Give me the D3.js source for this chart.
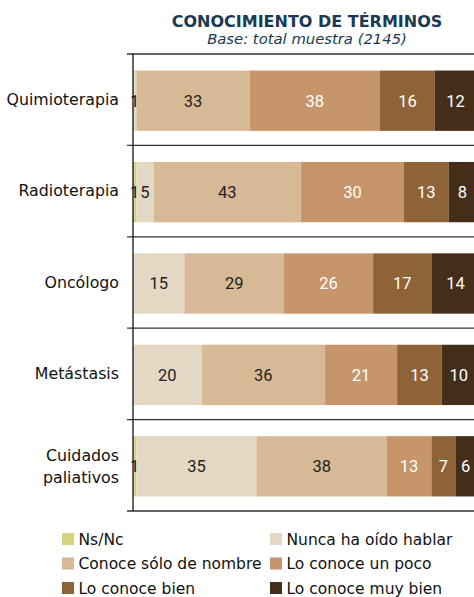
<!DOCTYPE html>
<html>
<head>
<meta charset="utf-8">
<script src="https://cdn.jsdelivr.net/npm/d3@7"></script>
<style>
  body { margin: 0; background: #fff; }
  svg { display: block; }
</style>
</head>
<body>
<svg id="chart" width="474" height="597"></svg>
<script>
// categorias y series (porcentajes)
var categories = ["Quimioterapia", "Radioterapia", "Oncólogo", "Metástasis", "Cuidados paliativos"];
var seriesNames = ["Ns/Nc", "Nunca ha oído hablar", "Conoce sólo de nombre", "Lo conoce un poco", "Lo conoce bien", "Lo conoce muy bien"];
var nsnc      = [0, 1, 0, 0, 1];
var nunca     = [1, 5, 15, 20, 35];
var soloNombre = [33, 43, 29, 36, 38];
var unPoco    = [38, 30, 26, 21, 13];
var bien      = [16, 13, 17, 13, 7];
var muyBien   = [12, 8, 14, 10, 6];
var xTicks = [0, 100];

var colors = ["#d5d37f", "#e4d8c5", "#d8b996", "#c6956a", "#8f6338", "#442e1a"];
var labelColors = ["#222", "#222", "#222", "#fff", "#fff", "#fff"];

var seriesValues = [nsnc, nunca, soloNombre, unPoco, bien, muyBien];
var table = categories.map(function(c, i) {
  var row = { cat: c };
  seriesNames.forEach(function(s, k) { row[s] = seriesValues[k][i]; });
  return row;
});

var svg = d3.select("#chart");

var x = d3.scaleLinear().domain([0, 100]).range([133, 476]);
var y = d3.scaleBand().domain(categories).range([54, 511]).paddingInner(0.34).paddingOuter(0.17);

var stack = d3.stack().keys(seriesNames);
var stacked = stack(table);

// titulo
svg.append("text")
  .attr("x", 307).attr("y", 27)
  .attr("text-anchor", "middle")
  .attr("font-family", "DejaVu Sans, Verdana, sans-serif")
  .attr("font-weight", "bold")
  .attr("font-size", 16)
  .attr("fill", "#1b3a52")
  .text("CONOCIMIENTO DE TÉRMINOS");

svg.append("text")
  .attr("x", 307).attr("y", 43.5)
  .attr("text-anchor", "middle")
  .attr("font-family", "DejaVu Sans, Verdana, sans-serif")
  .attr("font-style", "italic")
  .attr("font-size", 14.8)
  .attr("fill", "#1b3a52")
  .text("Base: total muestra (2145)");

// barras
var layer = svg.append("g").selectAll("g")
  .data(stacked)
  .join("g")
  .attr("fill", function(d, i) { return colors[i]; });

layer.selectAll("rect")
  .data(function(d) { return d; })
  .join("rect")
  .attr("x", function(d) { return x(d[0]); })
  .attr("y", function(d) { return y(d.data.cat) + 1; })
  .attr("width", function(d) { return x(d[1]) - x(d[0]); })
  .attr("height", y.bandwidth());

// etiquetas de valores
stacked.forEach(function(s, k) {
  svg.append("g").selectAll("text")
    .data(s.filter(function(d) { return d[1] - d[0] > 0; }))
    .join("text")
    .attr("x", function(d) { return x((d[0] + d[1]) / 2); })
    .attr("y", function(d) { return y(d.data.cat) + 1 + y.bandwidth() / 2; })
    .attr("dy", "0.36em")
    .attr("text-anchor", "middle")
    .attr("font-family", "Roboto, sans-serif")
    .attr("font-size", 16.5)
    .attr("fill", labelColors[k])
    .text(function(d) { return d[1] - d[0]; });
});

// separadores entre categorias
var bounds = d3.range(categories.length + 1).map(function(i) { return y.range()[0] + i * y.step(); });
svg.append("g").selectAll("line")
  .data(bounds)
  .join("line")
  .attr("x1", 127).attr("x2", 474)
  .attr("y1", function(d) { return d; })
  .attr("y2", function(d) { return d; })
  .attr("stroke", "#333")
  .attr("stroke-width", 1.3);

// eje vertical
var yAxis = svg.append("g")
  .attr("transform", "translate(" + x(xTicks[0]) + ",0)")
  .call(d3.axisLeft(y).tickSize(0).tickPadding(14));
yAxis.select(".domain").attr("stroke", "#111").attr("stroke-width", 1.3).attr("d", "M0," + bounds[0] + "V" + bounds[bounds.length - 1]);
yAxis.selectAll(".tick text")
  .attr("font-family", "DejaVu Sans, Verdana, sans-serif")
  .attr("font-size", 15.8)
  .attr("fill", "#111")
  .each(function(d) {
    var t = d3.select(this);
    var words = d.split(" ");
    if (words.length > 1) {
      t.text(null);
      words.forEach(function(w, i) {
        t.append("tspan").attr("x", -14).attr("dy", i === 0 ? "-0.26em" : "1.37em").text(w);
      });
    }
  });

// leyenda
var legend = svg.append("g")
  .attr("font-family", "DejaVu Sans, Verdana, sans-serif")
  .attr("font-size", 15.5)
  .attr("fill", "#111");
var legendItems = legend.selectAll("g")
  .data(seriesNames)
  .join("g")
  .attr("transform", function(d, i) {
    return "translate(" + (i % 2 === 0 ? 62 : 270) + "," + (539 + Math.floor(i / 2) * 24.5) + ")";
  });
legendItems.append("rect")
  .attr("x", 0).attr("y", -6).attr("width", 12).attr("height", 12)
  .attr("fill", function(d, i) { return colors[i]; });
legendItems.append("text")
  .attr("x", 16.5).attr("dy", "0.36em")
  .text(function(d) { return d; });
</script>
</body>
</html>
